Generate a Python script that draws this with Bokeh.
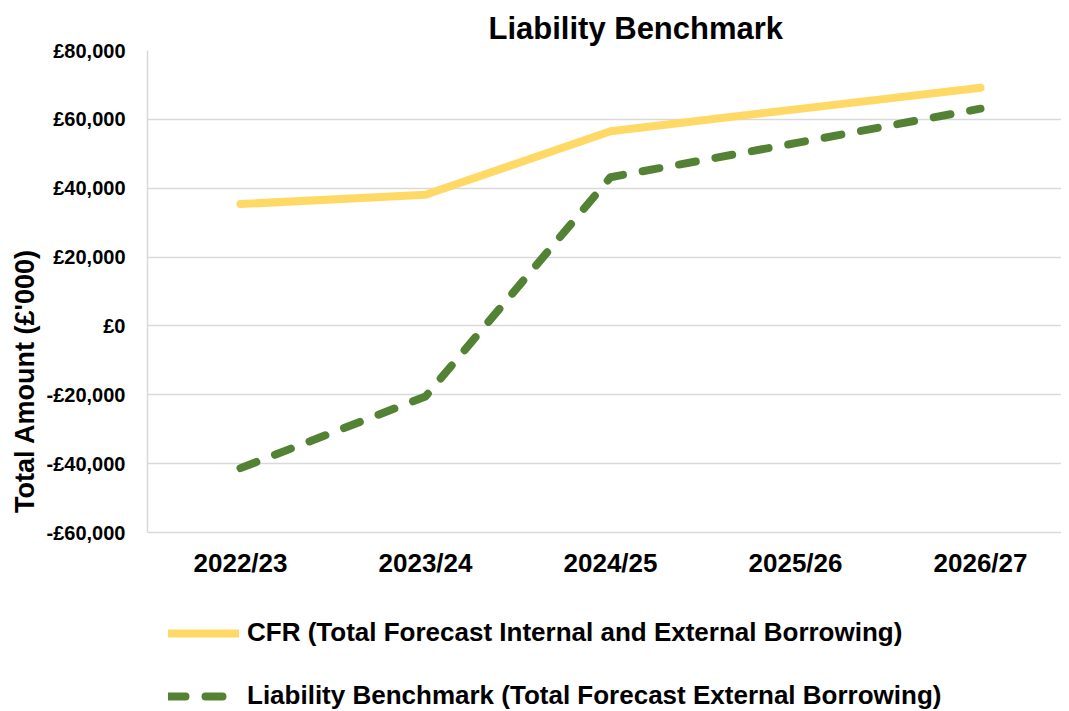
from bokeh.plotting import figure
from bokeh.models import Range1d, FixedTicker, Legend, LegendItem
from bokeh.embed import file_html
from bokeh.resources import INLINE

categories = ["2022/23", "2023/24", "2024/25", "2025/26", "2026/27"]
cfr = [35400, 38100, 56550, 62900, 69200]
liability = [-41300, -20500, 43200, 53100, 63100]
y_ticks = [-60000, -40000, -20000, 0, 20000, 40000, 60000, 80000]
y_tick_labels = ["-£60,000", "-£40,000", "-£20,000", "£0", "£20,000", "£40,000", "£60,000", "£80,000"]
series_names = ["CFR (Total Forecast Internal and External Borrowing)",
                "Liability Benchmark (Total Forecast External Borrowing)"]
chart_title = "Liability Benchmark"
y_title = "Total Amount (£'000)"

FONT = "Liberation Sans"
x = list(range(len(categories)))

# layout (pixels)
W, H = 1061, 711
LEFT, TOP = 147, 50
Y_AXIS_PX = 532          # pixel row of the lowest value line
y_min, y_max = y_ticks[0], y_ticks[-1]
per_px = (y_max - y_min) / (Y_AXIS_PX - TOP)
y_bottom = y_min - (H - Y_AXIS_PX) * per_px
CAT0_PX, CAT_STEP = 240, 185
x_start = (LEFT - CAT0_PX) / CAT_STEP
x_end = (W - CAT0_PX) / CAT_STEP

p = figure(width=W, height=H, output_backend="svg", toolbar_location=None,
           x_range=Range1d(x_start, x_end), y_range=Range1d(y_bottom, y_max),
           min_border_left=LEFT, min_border_right=0, min_border_top=TOP, min_border_bottom=0)

p.title.text = chart_title
p.title.align = "left"
p.title.offset = 341
p.title.text_font = FONT
p.title.text_font_size = "31px"
p.title.text_font_style = "bold"
p.title.text_color = "black"
p.title.standoff = 9

p.outline_line_color = None
p.background_fill_color = "white"
p.border_fill_color = "white"

p.xgrid.grid_line_color = None
p.ygrid.grid_line_color = "#d9d9d9"
p.ygrid.grid_line_width = 1.5
p.ygrid.ticker = FixedTicker(ticks=y_ticks)

p.xaxis.fixed_location = y_min
p.xaxis.ticker = FixedTicker(ticks=x)
p.xaxis.major_label_overrides = {i: c for i, c in zip(x, categories)}
p.xaxis.axis_line_color = None
p.xaxis.major_tick_line_color = None
p.xaxis.major_tick_out = 0
p.xaxis.major_tick_in = 0
p.xaxis.minor_tick_line_color = None
p.xaxis.major_label_text_font = FONT
p.xaxis.major_label_text_font_size = "26px"
p.xaxis.major_label_text_font_style = "bold"
p.xaxis.major_label_text_color = "black"
p.xaxis.major_label_standoff = 15

p.yaxis.bounds = (y_min, y_max)
p.yaxis.ticker = FixedTicker(ticks=y_ticks)
p.yaxis.major_label_overrides = {t: l for t, l in zip(y_ticks, y_tick_labels)}
p.yaxis.axis_line_color = "#d9d9d9"
p.yaxis.axis_line_width = 1.5
p.yaxis.major_tick_line_color = None
p.yaxis.major_tick_out = 0
p.yaxis.major_tick_in = 0
p.yaxis.minor_tick_line_color = None
p.yaxis.major_label_text_font = FONT
p.yaxis.major_label_text_font_size = "20px"
p.yaxis.major_label_text_font_style = "bold"
p.yaxis.major_label_text_color = "black"
p.yaxis.major_label_standoff = 22
p.yaxis.axis_label = y_title
p.yaxis.axis_label_text_font = FONT
p.yaxis.axis_label_text_font_size = "27px"
p.yaxis.axis_label_text_font_style = "bold"
p.yaxis.axis_label_text_color = "black"
p.yaxis.axis_label_standoff = 4

r1 = p.line(x, cfr, line_color="#FFD966", line_width=8, line_cap="round", line_join="round")
r2 = p.line(x, liability, line_color="#548235", line_width=8, line_dash="17 20",
            line_cap="round", line_join="round")

legend = Legend(items=[LegendItem(label=series_names[0], renderers=[r1]),
                       LegendItem(label=series_names[1], renderers=[r2])],
                location=(21, 0), orientation="vertical")
legend.border_line_color = None
legend.background_fill_alpha = 0
legend.padding = 0
legend.margin = 0
legend.spacing = 32
legend.glyph_width = 71
legend.glyph_height = 30
legend.label_height = 30
legend.label_standoff = 8
legend.label_text_font = FONT
legend.label_text_font_size = "26px"
legend.label_text_font_style = "bold"
legend.label_text_color = "black"
p.add_layout(legend, "center")

open("out.html", "w").write(file_html(p, INLINE))
